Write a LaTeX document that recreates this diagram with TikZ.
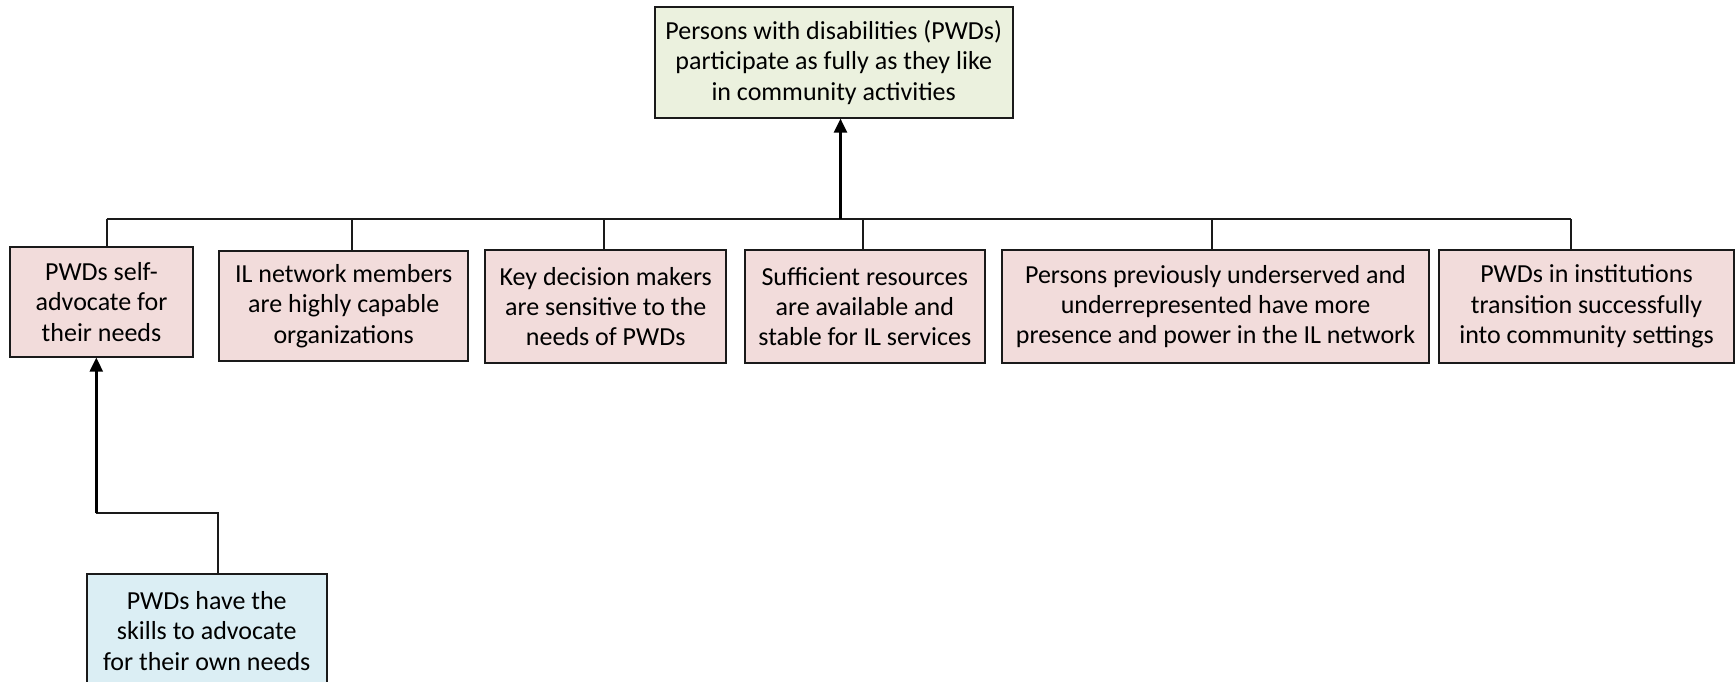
\documentclass[tikz,border=0pt]{standalone}
\usepackage{fontspec}
\setmainfont{Carlito}
\usetikzlibrary{arrows.meta}
\definecolor{gfill}{HTML}{EBF1DE}
\definecolor{pfill}{HTML}{F2DCDB}
\definecolor{bfill}{HTML}{DBEEF4}
\definecolor{edge}{HTML}{1A1A1A}
\tikzset{
  box/.style={draw=edge, line width=1.8pt, align=center, inner sep=0pt,
    font=\fontsize{26}{30.3}\selectfont, text=black},
  goal/.style={box, fill=gfill},
  outc/.style={box, fill=pfill},
  pre/.style={box, fill=bfill},
  link/.style={draw=edge, line width=1.8pt},
  arr/.style={draw=black, line width=2.4pt, -{Triangle[length=14pt,width=13pt]}},
}
\begin{document}
\begin{tikzpicture}[x=1pt,y=-1pt]
\useasboundingbox (0,0) rectangle (1735,681);
\node[goal, minimum width=358pt, minimum height=110.4pt] (top) at (833.7,62.5)
  {Persons with disabilities (PWDs)\\participate as fully as they like\\in community activities};
\node[outc, minimum width=183pt, minimum height=109.4pt] (b1) at (101.5,302)
  {PWDs self-\\advocate for\\their needs};
\node[outc, minimum width=249.3pt, minimum height=110.5pt] (b2) at (343.7,306)
  {IL network members\\are highly capable\\organizations};
\node[outc, minimum width=241pt, minimum height=113pt] (b3) at (605.7,306.5)
  {Key decision makers\\are sensitive to the\\needs of PWDs};
\node[outc, minimum width=240pt, minimum height=113pt] (b4) at (864.8,306.5)
  {Sufficient resources\\are available and\\stable for IL services};
\node[outc, minimum width=427.6pt, minimum height=113pt] (b5) at (1215.5,306.5)
  {Persons previously underserved and\\underrepresented have more\\presence and power in the IL network};
\node[outc, minimum width=295pt, minimum height=113pt] (b6) at (1586.5,306.5)
  {PWDs in institutions\\transition successfully\\into community settings};
\node[pre, minimum width=240pt, minimum height=113.4pt] (bot) at (206.7,631)
  {PWDs have the\\skills to advocate\\for their own needs};
% bus
\coordinate (s1) at (106.7,219);
\coordinate (s2) at (352.3,219);
\coordinate (s3) at (604.2,219);
\coordinate (s4) at (863,219);
\coordinate (s5) at (1212.3,219);
\coordinate (s6) at (1571,219);
\coordinate (sm) at (840.5,219);
\draw[link] (s1) -- (s6);
\foreach \i in {1,...,6} {\draw[link] (s\i) -- (s\i |- b\i.north);}
\draw[arr] (sm) -- (sm |- top.south);
% lower path
\coordinate (k1) at (218.3,513.3);
\coordinate (k2) at (96.3,513.3);
\draw[link] (k1 |- bot.north) -- (k1) -- (k2);
\draw[arr] (k2) -- (k2 |- b1.south);
\end{tikzpicture}
\end{document}
